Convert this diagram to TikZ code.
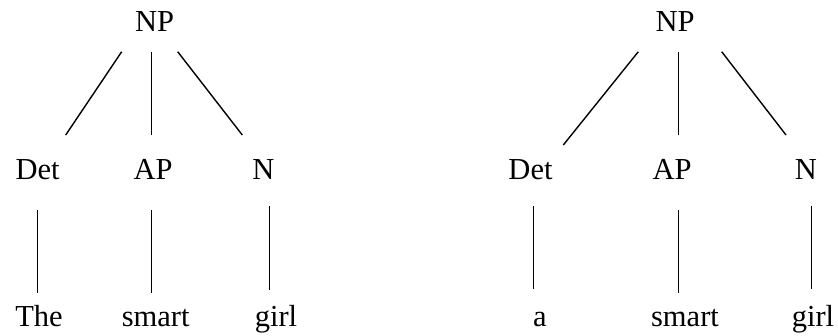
\documentclass[tikz,border=0pt]{standalone}
\usepackage{fontspec}
\setmainfont{Liberation Serif}
\usetikzlibrary{calc}
\begin{document}
\begin{tikzpicture}[x=1pt,y=-1pt,
  lbl/.style={anchor=base,inner sep=0pt,font=\fontsize{30.5}{36}\selectfont},
  edge/.style={draw=black,line width=1.4pt}]
\useasboundingbox (0,0) rectangle (838,335);
% left tree
\node[lbl] (np1) at (154.5,31.7) {NP};
\node[lbl] (det1) at (37.7,179) {Det};
\node[lbl] (ap1) at (153,179) {AP};
\node[lbl] (n1) at (263.5,179) {N};
\node[lbl] (w11) at (39,326.7) {The};
\node[lbl] (w12) at (155.7,326.7) {smart};
\node[lbl] (w13) at (276,326.7) {girl};
\draw[edge] ($(np1.base)+(-32.8,20)$) -- ($(det1.base)+(28,-44)$);
\draw[edge] ($(np1.base)+(-2.8,20)$) -- ($(ap1.base)+(-1.3,-44)$);
\draw[edge] ($(np1.base)+(23.2,20)$) -- ($(n1.base)+(-21.2,-44)$);
\draw[edge] ($(det1.base)+(0,31)$) -- ($(w11.base)+(-1.3,-33.7)$);
\draw[edge] ($(ap1.base)+(-1.3,31)$) -- ($(w12.base)+(-4,-33.7)$);
\draw[edge] ($(n1.base)+(5.8,27)$) -- ($(w13.base)+(-6.7,-36.7)$);
% right tree
\node[lbl] (np2) at (675,31.7) {NP};
\node[lbl] (det2) at (530.5,179) {Det};
\node[lbl] (ap2) at (672,179) {AP};
\node[lbl] (n2) at (806,179) {N};
\node[lbl] (w21) at (540,326.7) {a};
\node[lbl] (w22) at (685,326.7) {smart};
\node[lbl] (w23) at (813,326.7) {girl};
\draw[edge] ($(np2.base)+(-36.7,20)$) -- ($(det2.base)+(32.8,-34)$);
\draw[edge] ($(np2.base)+(3.3,20)$) -- ($(ap2.base)+(6.3,-44)$);
\draw[edge] ($(np2.base)+(46.7,20)$) -- ($(n2.base)+(-20,-44)$);
\draw[edge] ($(det2.base)+(2.8,27)$) -- ($(w21.base)+(-6.7,-37.7)$);
\draw[edge] ($(ap2.base)+(6.3,31)$) -- ($(w22.base)+(-6.7,-33.7)$);
\draw[edge] ($(n2.base)+(5.7,27)$) -- ($(w23.base)+(-1.3,-37.7)$);
\end{tikzpicture}
\end{document}
